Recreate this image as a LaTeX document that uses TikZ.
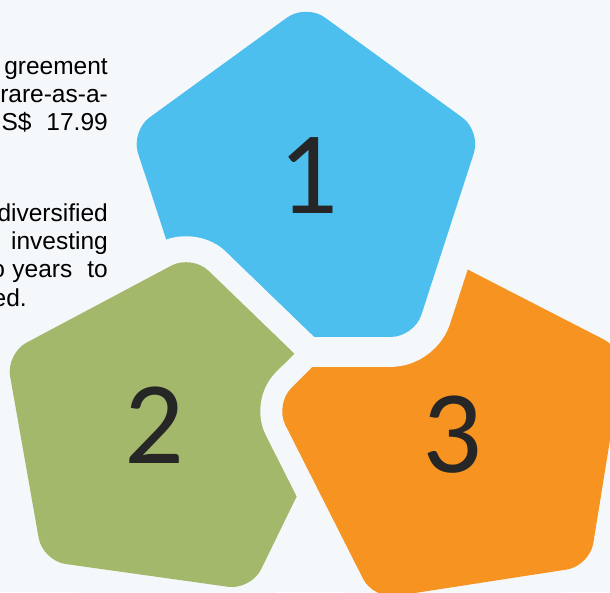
\documentclass[tikz,border=0pt]{standalone}
\usepackage{fontspec}
\setmainfont{Liberation Sans}
\newfontfamily\digitfont{Carlito}
\definecolor{paper}{HTML}{F4F8FA}
\definecolor{petalblue}{HTML}{4DBFEE}
\definecolor{petalgreen}{HTML}{A3B86A}
\definecolor{petalorange}{HTML}{F79421}
\definecolor{digitgray}{HTML}{262626}
\begin{document}
\begin{tikzpicture}[x=1pt,y=-1pt,
  petal/.style={rounded corners=23pt},
  % a petal cuts the ones beneath it with a stroke in the paper colour
  cutfill/.style 2 args={petal, fill=#1,
    preaction={draw=paper, line width=#2, line join=round}},
  bodytext/.style={inner sep=0pt, anchor=base east, font=\fontsize{24.5}{29}\selectfont, text=black},
  numeral/.style={inner sep=0pt, anchor=base, font=\digitfont\fontsize{118}{118}\selectfont, text=digitgray}]

\fill[paper] (0,0) rectangle (610,592);
\useasboundingbox (0,0) rectangle (610,592);

% corner points of the three pentagons
\coordinate (b1) at (306,4);
\coordinate (b2) at (481.0,131.1);
\coordinate (b3) at (414.2,336.9);
\coordinate (b4) at (197.8,336.9);
\coordinate (b5) at (131.0,131.1);

\coordinate (g1) at (191.9,254.7);
\coordinate (g2) at (343.3,400.9);
\coordinate (g3) at (251.0,590.0);
\coordinate (g4) at (42.7,560.8);
\coordinate (g5) at (6.1,353.5);

\coordinate (o1) at (430.0,250.2);
\coordinate (o2) at (624.5,350.1);
\coordinate (o3) at (589.6,566.0);
\coordinate (o4) at (373.5,599.4);
\coordinate (o5) at (274.9,404.3);

% blue first, then green over it, then orange over green
\fill[petal, petalblue] (b1) -- (b2) -- (b3) -- (b4) -- (b5) -- cycle;
\path[cutfill={petalgreen}{52pt}] (g1) -- (g2) -- (g3) -- (g4) -- (g5) -- cycle;
\path[cutfill={petalorange}{44pt}] (o1) -- (o2) -- (o3) -- (o4) -- (o5) -- cycle;

% blue closes the loop: its gap is cut into orange only
\begin{scope}
  \clip (330,300) -- (420,0) -- (620,-30) -- (620,620) -- (234,620) -- cycle;
  \draw[petal, paper, line width=60pt, line join=round] (b1) -- (b2) -- (b3) -- (b4) -- (b5) -- cycle;
\end{scope}
% and its own face is laid again everywhere but the notch left by green
\begin{scope}
  \clip (-60,-30) -- (620,-30) -- (620,620) -- (234,620) -- (317.9,340.4) -- (-60,-24.9) -- cycle;
  \fill[petal, petalblue] (b1) -- (b2) -- (b3) -- (b4) -- (b5) -- cycle;
\end{scope}

% numerals
\node[numeral] (n1) at (308,213) {1};
\node[numeral] (n2) at (154,463) {2};
\node[numeral] (n3) at (452.5,472) {3};

% body text along the left margin
\node[bodytext] (t1) at (108,74.3) {greement};
\node[bodytext] (t2) at (108,102.3) {rare-as-a-};
\node[bodytext] (t3) at (108,130.3) {S\$\hspace{15pt}17.99};
\node[bodytext] (t4) at (108,221) {diversified};
\node[bodytext] (t5) at (108,249) {investing};
\node[bodytext] (t6) at (108,277.7) {o\hspace{7.5pt}years\hspace{15pt}to};
\node[bodytext] (t7) at (27,306) {ed.};
\end{tikzpicture}
\end{document}
